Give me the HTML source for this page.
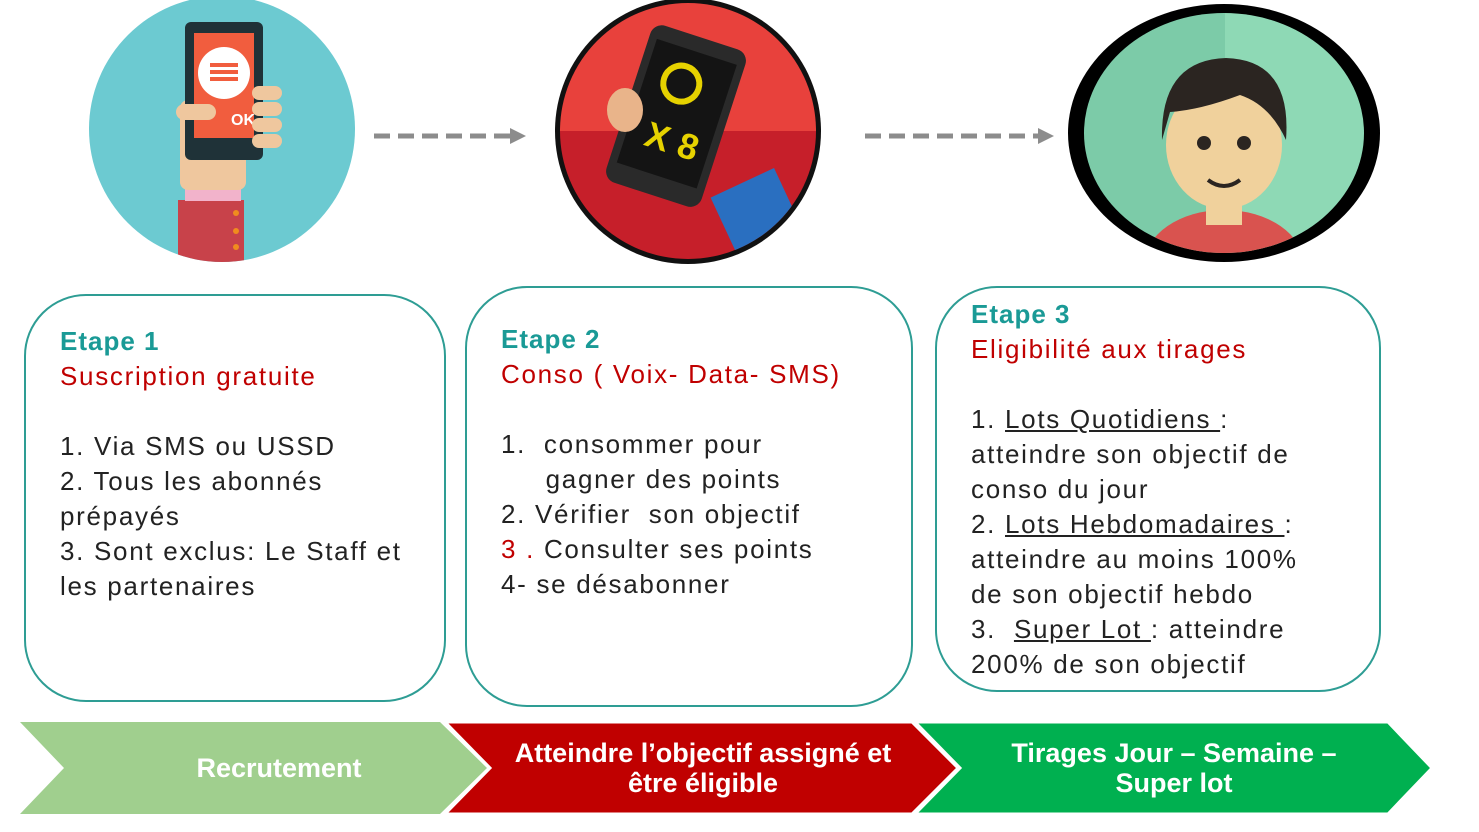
<!DOCTYPE html>
<html><head><meta charset="utf-8"><style>
body{margin:0;width:1479px;height:832px;background:#fff;position:relative;overflow:hidden;font-family:"Liberation Sans",sans-serif}
.box{position:absolute;border:2px solid #2e9d94;border-radius:62px;box-sizing:border-box}
.t{position:absolute;font-size:26px;line-height:35px;color:#222;white-space:nowrap;letter-spacing:1.7px}
.e{color:#1a9a96;font-weight:bold;letter-spacing:1px}
.r{color:#c00000}
u{text-decoration:underline}
</style></head><body>
<svg width="1479" height="832" style="position:absolute;left:0;top:0">
<defs><clipPath id="c2"><circle cx="688" cy="131" r="128"/></clipPath>
<clipPath id="c3"><ellipse cx="1224" cy="133" rx="140" ry="120"/></clipPath>
<clipPath id="c1"><circle cx="222" cy="129" r="133"/></clipPath></defs>
<circle cx="222" cy="129" r="133" fill="#6ccad1"/>
<g clip-path="url(#c1)">
<rect x="178" y="200" width="66" height="70" fill="#c8424a"/>
<rect x="185" y="187" width="56" height="14" fill="#f2b3cb"/>
<rect x="180" y="100" width="66" height="90" rx="8" fill="#efc79e"/>
<rect x="185" y="22" width="78" height="138" rx="6" fill="#1f3238"/>
<rect x="194" y="33" width="60" height="105" fill="#f15d3e"/>
<circle cx="224" cy="73" r="26" fill="#fff"/>
<rect x="210" y="63" width="28" height="4" fill="#f15d3e"/><rect x="210" y="70" width="28" height="4" fill="#f15d3e"/><rect x="210" y="77" width="28" height="4" fill="#f15d3e"/>
<text x="231" y="125" font-size="16" font-weight="bold" fill="#fff">OK</text>
<rect x="252" y="86" width="30" height="14" rx="7" fill="#efc79e"/><rect x="252" y="102" width="30" height="14" rx="7" fill="#efc79e"/><rect x="252" y="118" width="30" height="14" rx="7" fill="#efc79e"/><rect x="252" y="134" width="30" height="14" rx="7" fill="#efc79e"/>
<rect x="176" y="104" width="40" height="16" rx="8" fill="#efc79e"/>
<circle cx="236" cy="213" r="3" fill="#f08c1e"/><circle cx="236" cy="231" r="3" fill="#f08c1e"/><circle cx="236" cy="247" r="3" fill="#f08c1e"/>
</g>
<line x1="374" y1="136" x2="512" y2="136" stroke="#8c8c8c" stroke-width="5" stroke-dasharray="16,8"/>
<polygon points="510,128 526,136 510,144" fill="#8c8c8c"/>
<line x1="865" y1="136" x2="1040" y2="136" stroke="#8c8c8c" stroke-width="5" stroke-dasharray="16,8"/>
<polygon points="1038,128 1054,136 1038,144" fill="#8c8c8c"/>
<circle cx="688" cy="131" r="133" fill="#111"/>
<g clip-path="url(#c2)">
<rect x="550" y="0" width="280" height="131" fill="#e8413c"/>
<rect x="550" y="131" width="280" height="140" fill="#c61f2a"/>
<g transform="rotate(18 680 120)"><rect x="625" y="35" width="100" height="165" rx="12" fill="#2a2a2a"/><rect x="633" y="50" width="84" height="130" fill="#141414"/>
<circle cx="670" cy="85" r="18" fill="none" stroke="#e6d200" stroke-width="6"/><text x="652" y="155" font-size="36" font-weight="bold" fill="#e6d200">X 8</text></g>
<rect x="720" y="180" width="70" height="60" fill="#2a6fc0" transform="rotate(-25 755 210)"/>
<ellipse cx="625" cy="110" rx="18" ry="22" fill="#e9b48a"/>
</g>
<ellipse cx="1224" cy="133" rx="156" ry="129" fill="#000"/>
<g clip-path="url(#c3)">
<rect x="1080" y="0" width="145" height="270" fill="#7ccba8"/>
<rect x="1225" y="0" width="160" height="270" fill="#8ed9b5"/>
<ellipse cx="1224" cy="265" rx="80" ry="55" fill="#d9534f"/>
<rect x="1206" y="195" width="36" height="30" fill="#f0d19c"/>
<ellipse cx="1224" cy="145" rx="58" ry="64" fill="#f0d19c"/>
<path d="M1162 140 Q1160 60 1226 58 Q1292 60 1286 140 Q1270 105 1240 95 Q1200 110 1170 112 Z" fill="#2b2521"/>
<circle cx="1204" cy="143" r="7" fill="#2b2521"/><circle cx="1244" cy="143" r="7" fill="#2b2521"/>
<path d="M1208 180 Q1224 192 1240 180" stroke="#2b2521" stroke-width="4" fill="none"/>
</g>
<polygon points="20,722 440,722 487,768 440,814 20,814 64,768" fill="#a0cf8e"/>
<polygon points="445,722 912,722 958,768 912,814 445,814 490,768" fill="#c00000" stroke="#fff" stroke-width="3"/>
<polygon points="915,722 1388,722 1432,768 1388,814 915,814 960,768" fill="#00b050" stroke="#fff" stroke-width="3"/>
<g font-family="Liberation Sans" font-weight="bold" font-size="27" fill="#fff" text-anchor="middle">
<text x="279" y="777">Recrutement</text>
<text x="703" y="762">Atteindre l’objectif assigné et</text>
<text x="703" y="792">être éligible</text>
<text x="1174" y="762">Tirages Jour – Semaine –</text>
<text x="1174" y="792">Super lot</text>
</g>
</svg>
<div class="box" style="left:24px;top:294px;width:422px;height:408px"></div>
<div class="box" style="left:465px;top:286px;width:448px;height:421px"></div>
<div class="box" style="left:935px;top:286px;width:446px;height:406px"></div>
<div class="t" style="left:60px;top:324px"><span class="e">Etape 1</span><br><span class="r">Suscription gratuite</span><br><br>1. Via SMS ou USSD<br>2. Tous les abonnés<br>prépayés<br>3. Sont exclus: Le Staff et<br>les partenaires</div>
<div class="t" style="left:501px;top:322px"><span class="e">Etape 2</span><br><span class="r">Conso ( Voix- Data- SMS)</span><br><br>1.&nbsp; consommer pour<br>&nbsp;&nbsp;&nbsp;&nbsp; gagner des points<br>2. Vérifier&nbsp; son objectif<br><span class="r">3 .</span> Consulter ses points<br>4- se désabonner</div>
<div class="t" style="left:971px;top:297px"><span class="e">Etape 3</span><br><span class="r">Eligibilité aux tirages</span><br><br>1. <u>Lots Quotidiens </u>:<br>atteindre son objectif de<br>conso du jour<br>2. <u>Lots Hebdomadaires </u>:<br>atteindre au moins 100%<br>de son objectif hebdo<br>3.&nbsp; <u>Super Lot </u>: atteindre<br>200% de son objectif</div>
</body></html>
